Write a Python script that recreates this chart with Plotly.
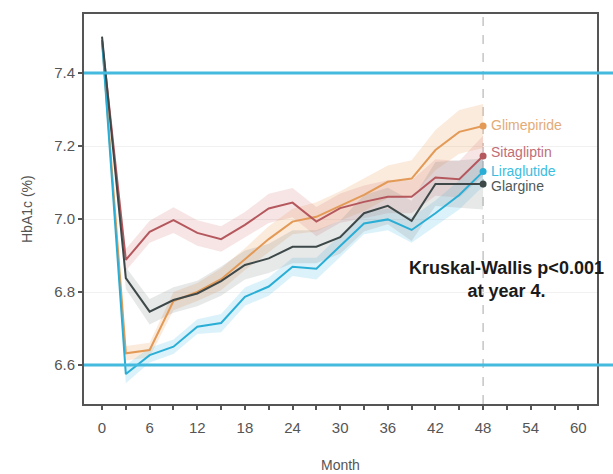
import plotly.graph_objects as go

# HbA1c trajectories by treatment arm, months since randomisation
months = [0, 3, 6, 9, 12, 15, 18, 21, 24, 27, 30, 33, 36, 39, 42, 45, 48]

glimepiride = [7.49, 6.632, 6.641, 6.775, 6.80, 6.835, 6.89, 6.945, 6.993, 7.006,
               7.036, 7.066, 7.102, 7.111, 7.189, 7.239, 7.255]
sitagliptin = [7.49, 6.888, 6.965, 6.997, 6.962, 6.945, 6.984, 7.029, 7.045, 6.993,
               7.03, 7.047, 7.061, 7.061, 7.114, 7.109, 7.173]
liraglutide = [7.49, 6.575, 6.627, 6.65, 6.705, 6.715, 6.787, 6.815, 6.869, 6.864,
               6.926, 6.988, 6.999, 6.97, 7.016, 7.066, 7.13]
glargine = [7.50, 6.838, 6.746, 6.778, 6.796, 6.83, 6.874, 6.892, 6.924, 6.924,
            6.95, 7.016, 7.036, 6.995, 7.096, 7.096, 7.096]

# half-width of the confidence ribbons
glimepiride_ci = [0.005, 0.02, 0.02, 0.025, 0.025, 0.03, 0.03, 0.035, 0.035, 0.04,
                  0.04, 0.045, 0.045, 0.05, 0.055, 0.06, 0.06]
sitagliptin_ci = [0.005, 0.03, 0.03, 0.035, 0.035, 0.035, 0.035, 0.04, 0.04, 0.04,
                  0.04, 0.045, 0.045, 0.045, 0.05, 0.05, 0.055]
liraglutide_ci = [0.005, 0.025, 0.02, 0.02, 0.02, 0.025, 0.025, 0.025, 0.025, 0.03,
                  0.03, 0.03, 0.03, 0.035, 0.035, 0.04, 0.04]
glargine_ci = [0.005, 0.03, 0.035, 0.035, 0.035, 0.04, 0.04, 0.04, 0.045, 0.045,
               0.045, 0.05, 0.05, 0.055, 0.06, 0.065, 0.07]

series_names = ["Glimepiride", "Sitagliptin", "Liraglutide", "Glargine"]
series_values = [glimepiride, sitagliptin, liraglutide, glargine]
series_ci = [glimepiride_ci, sitagliptin_ci, liraglutide_ci, glargine_ci]

line_colors = ["#e39a57", "#b5585e", "#2aaed6", "#3e4848"]
band_colors = ["rgba(238,165,100,0.22)", "rgba(214,125,125,0.20)",
               "rgba(80,190,230,0.20)", "rgba(120,128,128,0.18)"]
label_colors = ["#e3ab78", "#bf6e78", "#3cbde0", "#4e5858"]
label_shift = [1, 4, 1, -2]

target_lines = [7.4, 6.6]
x_ticks = list(range(0, 61, 3))
y_ticks = [6.6, 6.8, 7.0, 7.2, 7.4]

FONT = "Liberation Sans, Arial, sans-serif"
AXIS_GREY = "#555555"

fig = go.Figure()

for vals, ci, bc in zip(series_values, series_ci, band_colors):
    upper = [v + c for v, c in zip(vals, ci)]
    lower = [v - c for v, c in zip(vals, ci)]
    fig.add_trace(go.Scatter(
        x=months + months[::-1], y=upper + lower[::-1],
        fill="toself", fillcolor=bc, line=dict(width=0),
        mode="lines", hoverinfo="skip", showlegend=False))

for name, vals, lc in zip(series_names, series_values, line_colors):
    fig.add_trace(go.Scatter(
        x=months, y=vals, mode="lines", name=name,
        line=dict(color=lc, width=2), showlegend=False))
    fig.add_trace(go.Scatter(
        x=[months[-1]], y=[vals[-1]], mode="markers",
        marker=dict(color=lc, size=7), showlegend=False, hoverinfo="skip"))

for name, vals, col, ys in zip(series_names, series_values, label_colors, label_shift):
    fig.add_annotation(x=months[-1], y=vals[-1], text=name, showarrow=False,
                       xanchor="left", yanchor="middle", xshift=7, yshift=ys,
                       borderpad=0,
                       font=dict(family=FONT, size=14, color=col))

fig.add_annotation(x=51, y=6.834, text="<b>Kruskal-Wallis p<0.001<br>at year 4.</b>",
                   showarrow=False, align="center", xanchor="center", yanchor="middle",
                   font=dict(family=FONT, size=18, color="#1a1a1a"))

# axis titles
fig.add_annotation(xref="paper", yref="paper", x=0.5, y=0, yshift=-61,
                   text="Month", showarrow=False, xanchor="center", yanchor="middle",
                   font=dict(family=FONT, size=14, color=AXIS_GREY))
fig.add_annotation(xref="paper", yref="paper", x=0, y=0.5, xshift=-57,
                   text="HbA1c (%)", textangle=-90, showarrow=False,
                   xanchor="center", yanchor="middle",
                   font=dict(family=FONT, size=14, color=AXIS_GREY))

for yv in target_lines:
    fig.add_shape(type="line", xref="paper", yref="y", x0=0, x1=1.032, y0=yv, y1=yv,
                  line=dict(color="#44bade", width=3), layer="above")

fig.add_shape(type="line", xref="x", yref="paper", x0=48, x1=48, y0=0, y1=1,
              line=dict(color="#a8a8a8", width=1, dash="dash"), layer="below")

fig.update_layout(
    width=613, height=474,
    margin=dict(l=84, r=16, t=14, b=70),
    paper_bgcolor="white", plot_bgcolor="white",
    font=dict(family=FONT, size=14, color=AXIS_GREY),
    xaxis=dict(
        range=[-2.27, 62.35], tickmode="array", tickvals=x_ticks,
        ticktext=[str(v) if v % 6 == 0 else "" for v in x_ticks],
        ticks="outside", ticklen=4, tickwidth=1.5, tickcolor=AXIS_GREY,
        ticklabelstandoff=5, automargin=False,
        showline=True, linecolor=AXIS_GREY, linewidth=2, mirror=True,
        showgrid=False, zeroline=False,
        tickfont=dict(size=15, color=AXIS_GREY),
    ),
    yaxis=dict(
        range=[6.493, 7.562], tickmode="array", tickvals=y_ticks,
        ticktext=[f"{v:.1f}" for v in y_ticks],
        ticks="outside", ticklen=4, tickwidth=1.5, tickcolor=AXIS_GREY,
        automargin=False,
        showline=True, linecolor=AXIS_GREY, linewidth=2, mirror=True,
        showgrid=True, gridcolor="#f1f1f1", gridwidth=1, zeroline=False,
        tickfont=dict(size=15, color=AXIS_GREY),
    ),
)

fig.write_html("out.html")
